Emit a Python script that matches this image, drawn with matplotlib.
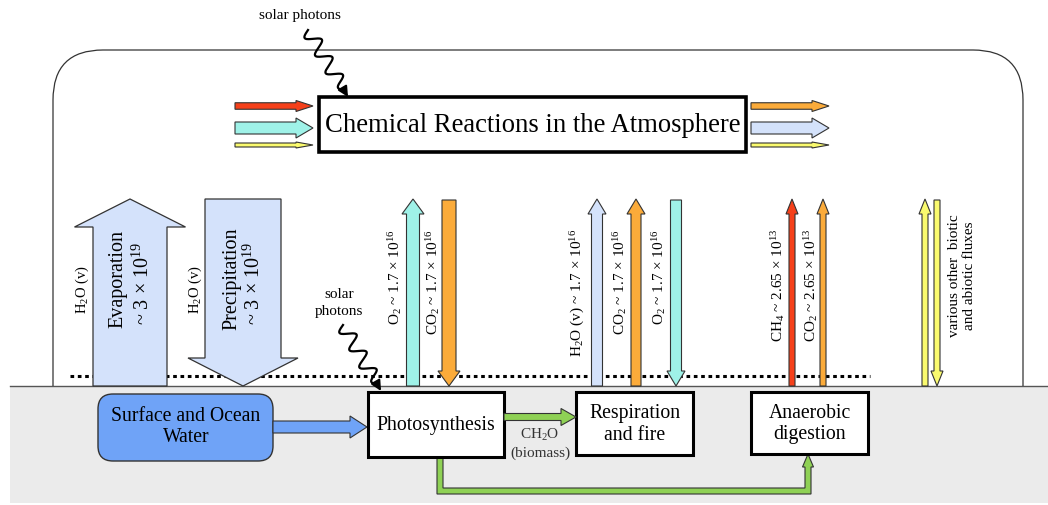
import numpy as np
import matplotlib
matplotlib.use("Agg")
import matplotlib.pyplot as plt
from matplotlib.patches import FancyArrow, Rectangle, FancyBboxPatch, Polygon, PathPatch
from matplotlib.path import Path

plt.rcParams['font.family'] = ['Liberation Serif', 'DejaVu Serif']
plt.rcParams['mathtext.fontset'] = 'custom'
plt.rcParams['mathtext.rm'] = 'Liberation Serif'
plt.rcParams['mathtext.default'] = 'regular'

# ---------------- data ----------------
water_fluxes = ['Evaporation', 'Precipitation']
water_flux_values = ['~ 3 × 10$^{19}$', '~ 3 × 10$^{19}$']
water_flux_species = ['H$_2$O (v)', 'H$_2$O (v)']
water_flux_dirs = ['up', 'down']

process_names = ['Photosynthesis', 'Respiration\nand fire', 'Anaerobic\ndigestion']

flux_species = ['O$_2$', 'CO$_2$', 'H$_2$O (v)', 'CO$_2$', 'O$_2$', 'CH$_4$', 'CO$_2$']
flux_values = ['1.7 × 10$^{16}$', '1.7 × 10$^{16}$', '1.7 × 10$^{16}$', '1.7 × 10$^{16}$',
               '1.7 × 10$^{16}$', '2.65 × 10$^{13}$', '2.65 × 10$^{13}$']
flux_dirs = ['up', 'down', 'up', 'up', 'down', 'up', 'up']
flux_colors = ['#9ff2e8', '#fbab3a', '#d4e2fb', '#fbab3a', '#9ff2e8', '#f5401a', '#fbab3a']

other_flux_label = 'various other  biotic\nand abiotic fluxes'
chem_title = 'Chemical Reactions in the Atmosphere'
chem_in_colors = ['#f5401a', '#9ff2e8', '#fafa6e']
chem_out_colors = ['#fbab3a', '#d4e2fb', '#fafa6e']

# ---------------- layout ----------------
W, H = 1048, 505
fig = plt.figure(figsize=(W / 100, H / 100), dpi=100)
ax = fig.add_axes([0, 0, 1, 1])
ax.set_xlim(0, W)
ax.set_ylim(H, 0)
ax.axis('off')

GROUND = 386
EDGE = '#333333'

# ground
ax.add_patch(Rectangle((10, GROUND), W - 10, 117, facecolor='#ebebeb', edgecolor='none', zorder=0))
ax.plot([10, W], [GROUND, GROUND], color='#555555', lw=1.0, zorder=1)

# outer rounded atmosphere boundary
r = 50
L, R, T = 53, 1023, 50
verts = [(L, GROUND), (L, T + r), (L, T), (L + r, T), (R - r, T), (R, T), (R, T + r), (R, GROUND)]
codes = [Path.MOVETO, Path.LINETO, Path.CURVE3, Path.CURVE3, Path.LINETO, Path.CURVE3, Path.CURVE3, Path.LINETO]
ax.add_patch(PathPatch(Path(verts, codes), facecolor='none', edgecolor='#333333', lw=0.9, zorder=1))

# dotted line
ax.plot([70, 870], [376, 376], color='black', lw=2.2, linestyle=(0, (1.2, 1.2)), zorder=1)


def varrow(xc, y_from, y_to, w, hw, hl, color, z=3, lw=0.8):
    a = FancyArrow(xc, y_from, 0, y_to - y_from, width=w, head_width=hw, head_length=hl,
                   length_includes_head=True, facecolor=color, edgecolor=EDGE, lw=lw, zorder=z)
    ax.add_patch(a)


def harrow(x_from, x_to, yc, w, hw, hl, color, z=3, lw=0.8):
    a = FancyArrow(x_from, yc, x_to - x_from, 0, width=w, head_width=hw, head_length=hl,
                   length_includes_head=True, facecolor=color, edgecolor=EDGE, lw=lw, zorder=z)
    ax.add_patch(a)


# chemical reactions box
ax.add_patch(Rectangle((319, 97), 427, 55, facecolor='white', edgecolor='black', lw=2.6, zorder=3))
ax.text(533, 125, chem_title, ha='center', va='center', fontsize=19.2, zorder=4)

# arrows in/out chem box
ys = [106, 128, 145]
ws = [6.5, 12, 4]
hws = [11, 20, 6]
for y, w, hw, c in zip(ys, ws, hws, chem_in_colors):
    harrow(235, 313, y, w, hw, 17, c)
for y, w, hw, c in zip(ys, ws, hws, chem_out_colors):
    harrow(751, 829, y, w, hw, 17, c)


def squiggle(x0, y0, x1, y1, n=3.5, amp=7):
    t = np.linspace(0, 1, 200)
    dx, dy = x1 - x0, y1 - y0
    Lh = np.hypot(dx, dy)
    ux, uy = dx / Lh, dy / Lh
    px, py = -uy, ux
    s = np.sin(2 * np.pi * n * t) * amp
    s[t > 0.85] *= np.clip((1 - t[t > 0.85]) / 0.15, 0, 1)
    xs = x0 + dx * t * 0.92 + px * s
    ys_ = y0 + dy * t * 0.92 + py * s
    ax.plot(xs, ys_, color='black', lw=1.6, zorder=5)
    ax.annotate('', xy=(x1, y1), xytext=(xs[-1], ys_[-1]),
                arrowprops=dict(arrowstyle='-|>,head_length=0.6,head_width=0.3', color='black', lw=1.5,
                                shrinkA=0, shrinkB=0), zorder=5)


ax.text(300, 16, 'solar photons', ha='center', va='center', fontsize=11)
squiggle(308, 30, 348, 97)
ax.text(339, 294, 'solar', ha='center', va='center', fontsize=11)
ax.text(339, 312, 'photons', ha='center', va='center', fontsize=11)
squiggle(343, 325, 381, 391)

# evaporation / precipitation big arrows
varrow(130, GROUND, 199, 74, 111, 28, '#d4e2fb', z=2, lw=0.9)
varrow(243, 199, GROUND, 76, 110, 28, '#d4e2fb', z=2, lw=0.9)
for xs_, (name, val, sp) in zip([(118, 143, 82), (232, 254, 195)],
                                zip(water_fluxes, water_flux_values, water_flux_species)):
    ax.text(xs_[0], 279, name, rotation=90, ha='center', va='center', fontsize=14.5, zorder=4)
    ax.text(xs_[1], 283, val, rotation=90, ha='center', va='center', fontsize=14.5, zorder=4)
    ax.text(xs_[2], 290, sp, rotation=90, ha='center', va='center', fontsize=10.5, zorder=4)

# vertical flux arrows
flux_x = [413, 449, 597, 636, 676, 792, 823]
flux_w = [13, 14, 11, 10, 11, 6, 6]
flux_hw = [22, 22, 18, 18, 18, 12, 12]
flux_lab_x = [395, 433, 578, 620, 659, 778, 811]
for x, w, hw, d, c, sp, v, lx in zip(flux_x, flux_w, flux_hw, flux_dirs, flux_colors,
                                     flux_species, flux_values, flux_lab_x):
    if d == 'up':
        varrow(x, GROUND, 199, w, hw, 15, c)
    else:
        varrow(x, 200, GROUND, w, hw, 15, c)
    ax.text(lx, 229, f'{sp} ~ {v}', rotation=90, rotation_mode='anchor', ha='right', va='center',
            fontsize=11, zorder=4)

# other fluxes (yellow)
varrow(925, GROUND, 199, 6, 12, 15, '#fafa6e')
varrow(937, 200, GROUND, 6, 12, 15, '#fafa6e')
ax.text(962, 276, other_flux_label, rotation=90, ha='center', va='center', fontsize=11,
        multialignment='center', linespacing=1.2, zorder=4)

# surface water box
ax.add_patch(FancyBboxPatch((98, 394), 175, 67, boxstyle='round,pad=0,rounding_size=15',
                            facecolor='#6fa3f7', edgecolor='#333333', lw=1.0, zorder=3))
ax.text(186, 427, 'Surface and Ocean\nWater', ha='center', va='center', fontsize=14.2,
        linespacing=1.15, zorder=4)
harrow(273, 367, 427, 12, 22, 17, '#6fa3f7')

# process boxes
boxes = [(368, 392, 136, 65), (576, 392, 117, 63), (751, 392, 117, 62)]
for (bx, by, bw, bh), name in zip(boxes, process_names):
    ax.add_patch(Rectangle((bx, by), bw, bh, facecolor='white', edgecolor='black', lw=2.2, zorder=3))
    ax.text(bx + bw / 2, by + bh / 2 + 1, name, ha='center', va='center', fontsize=14.2,
            linespacing=1.15, zorder=4)

# green arrows
GREEN = '#8fd155'
harrow(504, 576, 417, 7, 17, 15, GREEN)
ax.text(540, 435, 'CH$_2$O', ha='center', va='center', fontsize=11, color='#333333')
ax.text(540, 453, '(biomass)', ha='center', va='center', fontsize=11, color='#333333')
poly = [(437, 457), (437, 494), (811, 494), (811, 467), (813.5, 467), (808, 454), (802.5, 467),
        (805, 467), (805, 488), (443, 488), (443, 457)]
ax.add_patch(Polygon(poly, closed=True, facecolor=GREEN, edgecolor=EDGE, lw=0.8, zorder=2))

fig.savefig('out.png', dpi=100)
